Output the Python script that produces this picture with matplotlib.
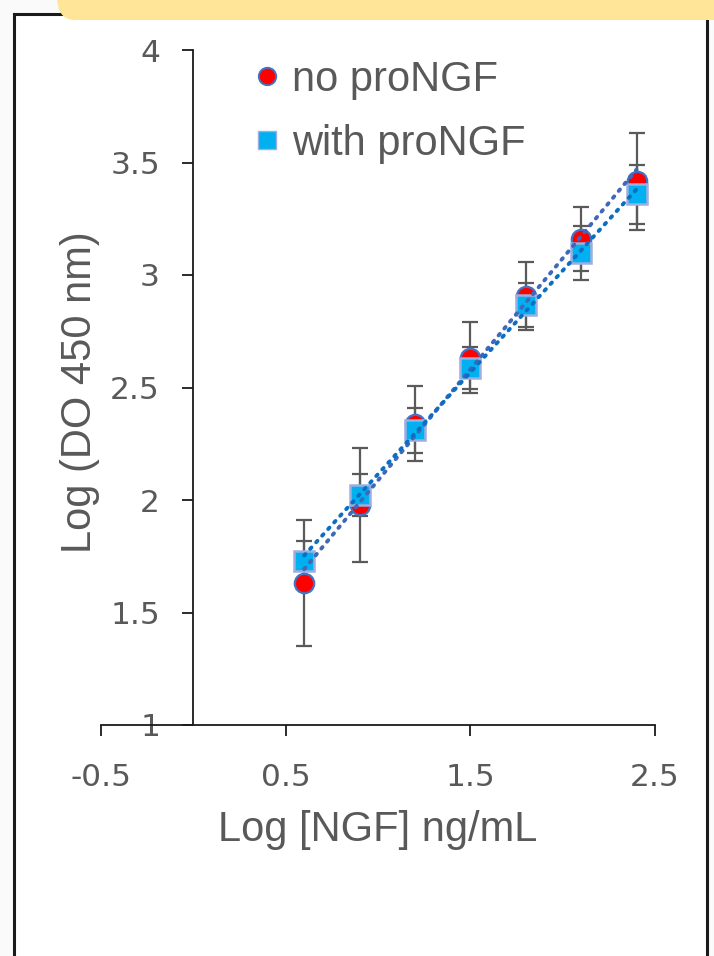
import numpy as np
import matplotlib
matplotlib.use("Agg")
import matplotlib.pyplot as plt
from matplotlib.lines import Line2D
from matplotlib.patches import Rectangle, FancyBboxPatch

# ---- data ----
log_ngf = [0.6, 0.9, 1.2, 1.5, 1.8, 2.1, 2.4]
no_prongf = [1.63, 1.978, 2.34, 2.633, 2.907, 3.16, 3.416]
no_prongf_err = [0.28, 0.253, 0.167, 0.158, 0.151, 0.14, 0.216]
with_prongf = [1.729, 2.022, 2.309, 2.587, 2.867, 3.098, 3.358]
with_prongf_err = [0.089, 0.093, 0.1, 0.093, 0.098, 0.12, 0.131]
series_labels = ["no proNGF", "with proNGF"]
x_ticks = [-0.5, 0.5, 1.5, 2.5]
y_ticks = [1, 1.5, 2, 2.5, 3, 3.5, 4]
x_label = "Log [NGF] ng/mL"
y_label = "Log (DO 450 nm)"

W, H = 714, 956
fig = plt.figure(figsize=(W / 100, H / 100), dpi=100, facecolor="#FAFAFA")

# outer frame and top banner
fig.patches.append(Rectangle((14 / W, -0.05), (707 - 14) / W, 1.05 - 14 / H,
                             transform=fig.transFigure, facecolor="white",
                             edgecolor="#1a1a1a", linewidth=2.2, zorder=-5))
fig.patches.append(FancyBboxPatch((57 / W, 1 - 20 / H), 1.2, 0.1,
                                  boxstyle="round,pad=0,rounding_size=0.025",
                                  transform=fig.transFigure, facecolor="#FEE598",
                                  edgecolor="none", zorder=10))

ax = fig.add_axes([101 / W, 1 - 725 / H, (655 - 101) / W, (725 - 50) / H])
ax.set_facecolor("none")
ax.set_xlim(-0.5, 2.5)
ax.set_ylim(1, 4)

for s in ["top", "right"]:
    ax.spines[s].set_visible(False)
ax.spines["left"].set_position(("data", 0))
ax.spines["bottom"].set_position(("data", 1))
for s in ["left", "bottom"]:
    ax.spines[s].set_color("#1a1a1a")
    ax.spines[s].set_linewidth(1.3)

ax.set_xticks(x_ticks)
ax.set_yticks(y_ticks)
ax.set_xticklabels(["-0.5", "0.5", "1.5", "2.5"])
ax.set_yticklabels(["1", "1.5", "2", "2.5", "3", "3.5", "4"])
tick_font = ["Liberation Sans Narrow", "DejaVu Sans"]
ax.tick_params(axis="both", direction="out", length=8, width=1.3, color="#1a1a1a",
               labelcolor="#595959", labelsize=22.5)
ax.tick_params(axis="y", pad=16)
ax.tick_params(axis="x", pad=19)
for lab in ax.get_xticklabels() + ax.get_yticklabels():
    lab.set_fontfamily(tick_font)

label_font = ["Liberation Sans", "DejaVu Sans"]
ax.set_xlabel(x_label, fontsize=30, color="#595959", family=label_font, labelpad=13)
fig.text(80 / W, 1 - 392 / H, y_label, rotation=90, fontsize=30, color="#595959",
         family=label_font, ha="center", va="center")

# error bars
ax.errorbar(log_ngf, no_prongf, yerr=no_prongf_err, fmt="none", ecolor="#5a5a5a",
            elinewidth=1.6, capsize=6, capthick=1.6, zorder=2)
ax.errorbar(log_ngf, with_prongf, yerr=with_prongf_err, fmt="none", ecolor="#5a5a5a",
            elinewidth=1.6, capsize=6, capthick=1.6, zorder=2)

# markers
ax.plot(log_ngf, no_prongf, "o", ms=14, mfc="#FF0000", mec="#4472C4", mew=1.6,
        linestyle="none", zorder=3)
ax.plot(log_ngf, with_prongf, "s", ms=14.5, mfc="#00B0F0", mec="#9DAEDF", mew=1.8,
        linestyle="none", zorder=4)

# linear trendlines
xs = np.array([min(log_ngf), max(log_ngf)])
for ys, col in [(no_prongf, "#3F68B8"), (with_prongf, "#0A6FC2")]:
    m, b = np.polyfit(log_ngf, ys, 1)
    ax.plot(xs, m * xs + b, color=col, lw=2.8, linestyle=(0, (0.5, 1.8)),
            dash_capstyle="round", zorder=5)

handles = [
    Line2D([], [], marker="o", ms=12.5, mfc="#FF0000", mec="#4472C4", mew=1.4, linestyle="none"),
    Line2D([], [], marker="s", ms=13, mfc="#00B0F0", mec="#9DAEDF", mew=1.0, linestyle="none"),
]
leg = ax.legend(handles, series_labels, loc="upper left",
                bbox_to_anchor=(234 / W, 1 - 39 / H), bbox_transform=fig.transFigure,
                frameon=False, prop={"family": label_font, "size": 30},
                labelcolor="#595959", handlelength=0.6, handletextpad=0.3,
                labelspacing=0.58, borderpad=0)

fig.savefig("out.png", dpi=100, facecolor=fig.get_facecolor())
